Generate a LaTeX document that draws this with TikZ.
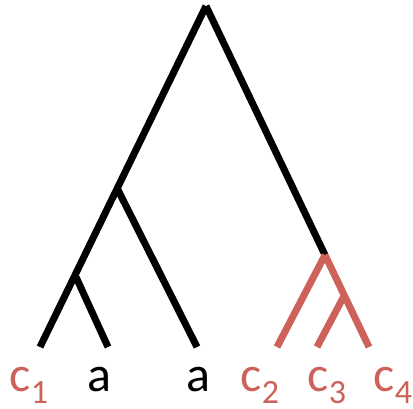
\documentclass[tikz,border=0pt]{standalone}
\usepackage{fontspec}
\setmainfont{Carlito}
\usetikzlibrary{positioning}
\definecolor{cladered}{RGB}{205,98,90}
\newcommand{\lowsub}[1]{\raisebox{-12pt}{\fontsize{34}{38}\selectfont #1}}
\tikzset{
    branch/.style={line width=7pt},
    clade/.style={branch, draw=cladered},
    leaflabel/.style={anchor=base, inner sep=0pt, font=\fontsize{50}{60}\selectfont},
}

\begin{document}
\begin{tikzpicture}[x=1pt,y=-1pt]
    \useasboundingbox (0,0) rectangle (413,408);
    % Internal nodes
    \coordinate (root) at (206,6);
    \coordinate (n1) at (118,190);
    \coordinate (n2) at (76,277);
    \coordinate (r1) at (325,255);
    \coordinate (r2) at (344,296);

    % Leaves
    \coordinate (l1) at (40,347);
    \coordinate (l2) at (108,347);
    \coordinate (l3) at (197,347);
    \coordinate (l4) at (277,347);
    \coordinate (l5) at (317,347);
    \coordinate (l6) at (369,347);

    % Branches
    \draw[branch] (root) -- (l1);
    \draw[branch] (n2) -- (l2);
    \draw[branch] (n1) -- (l3);
    \draw[branch] (root) -- (r1);
    \draw[clade] (r1) -- (l4);
    \draw[clade] (r1) -- (l6);
    \draw[clade] (r2) -- (l5);

    % Labels
    \node[leaflabel, text=cladered] (t1) at (29,391) {c\lowsub{1}};
    \node[leaflabel] (t2) at (99,391) {a};
    \node[leaflabel] (t3) at (198,391) {a};
    \node[leaflabel, text=cladered] (t4) at (260,391) {c\lowsub{2}};
    \node[leaflabel, text=cladered] (t5) at (327,391) {c\lowsub{3}};
    \node[leaflabel, text=cladered] (t6) at (393,391) {c\lowsub{4}};
\end{tikzpicture}
\end{document}
